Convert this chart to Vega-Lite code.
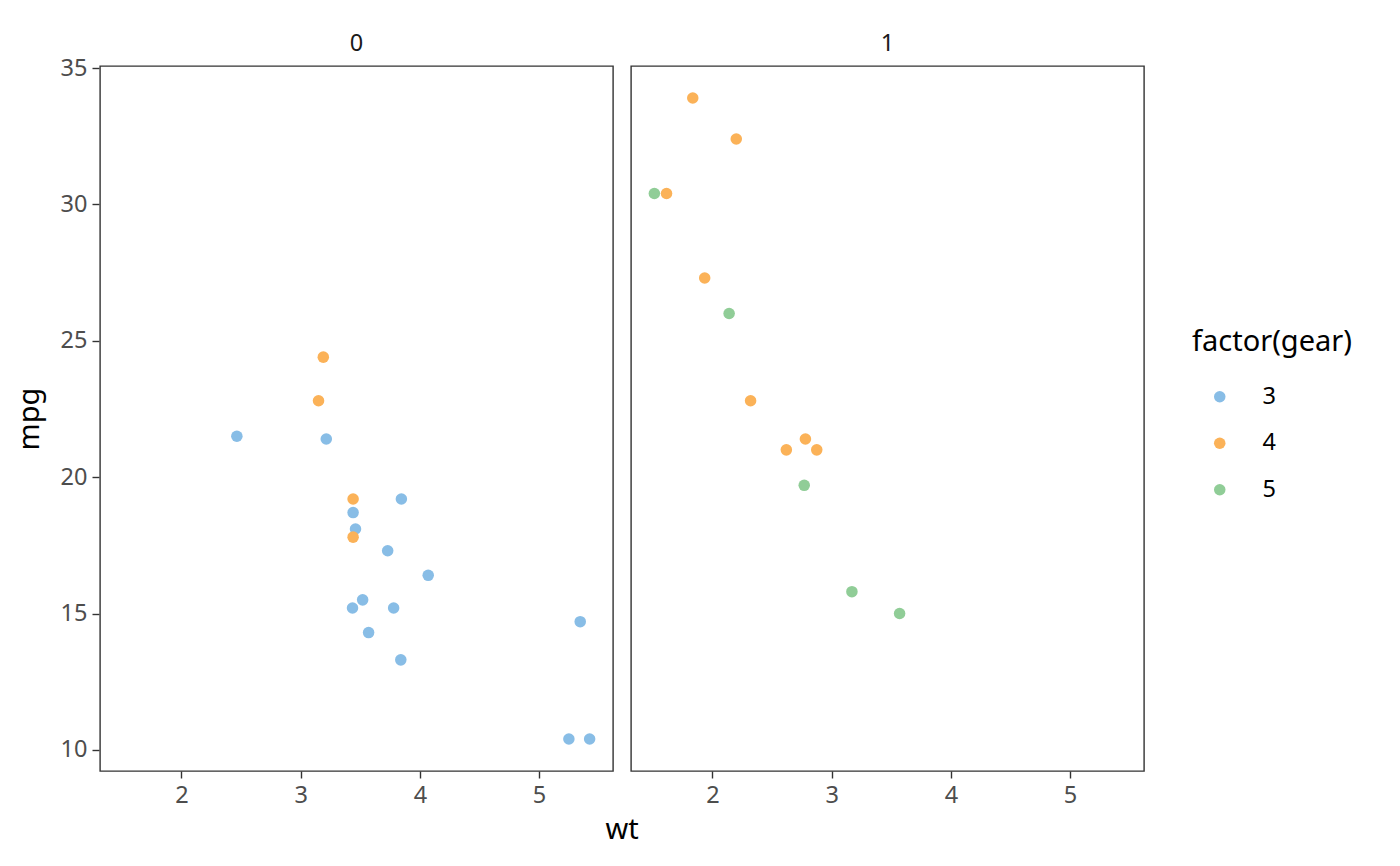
{
  "$schema": "https://vega.github.io/schema/vega-lite/v6.json",
  "padding": {"left": 15, "top": 31, "right": 5, "bottom": 5},
  "background": "white",
  "config": {
    "font": "Noto Sans",
    "view": {"stroke": "#333333", "strokeWidth": 1.4},
    "axis": {"grid": false, "domain": false, "tickColor": "#333333", "tickSize": 7, "tickWidth": 1.4, "labelColor": "#4d4d4d", "labelFontSize": 23.5, "labelPadding": 5, "titleFontSize": 29, "titleFontWeight": "normal", "titleColor": "black"},
    "header": {"labelFontSize": 23.5, "labelColor": "#1a1a1a"},
    "legend": {"titleFontSize": 29, "titleFontWeight": "normal", "titleColor": "black", "labelFontSize": 23.5, "labelColor": "black"}
  },
  "data": {"values": [
    {"car": "Mazda RX4", "mpg": 21.0, "wt": 2.620, "am": 1, "gear": "4"},
    {"car": "Mazda RX4 Wag", "mpg": 21.0, "wt": 2.875, "am": 1, "gear": "4"},
    {"car": "Datsun 710", "mpg": 22.8, "wt": 2.320, "am": 1, "gear": "4"},
    {"car": "Hornet 4 Drive", "mpg": 21.4, "wt": 3.215, "am": 0, "gear": "3"},
    {"car": "Hornet Sportabout", "mpg": 18.7, "wt": 3.440, "am": 0, "gear": "3"},
    {"car": "Valiant", "mpg": 18.1, "wt": 3.460, "am": 0, "gear": "3"},
    {"car": "Duster 360", "mpg": 14.3, "wt": 3.570, "am": 0, "gear": "3"},
    {"car": "Merc 240D", "mpg": 24.4, "wt": 3.190, "am": 0, "gear": "4"},
    {"car": "Merc 230", "mpg": 22.8, "wt": 3.150, "am": 0, "gear": "4"},
    {"car": "Merc 280", "mpg": 19.2, "wt": 3.440, "am": 0, "gear": "4"},
    {"car": "Merc 280C", "mpg": 17.8, "wt": 3.440, "am": 0, "gear": "4"},
    {"car": "Merc 450SE", "mpg": 16.4, "wt": 4.070, "am": 0, "gear": "3"},
    {"car": "Merc 450SL", "mpg": 17.3, "wt": 3.730, "am": 0, "gear": "3"},
    {"car": "Merc 450SLC", "mpg": 15.2, "wt": 3.780, "am": 0, "gear": "3"},
    {"car": "Cadillac Fleetwood", "mpg": 10.4, "wt": 5.250, "am": 0, "gear": "3"},
    {"car": "Lincoln Continental", "mpg": 10.4, "wt": 5.424, "am": 0, "gear": "3"},
    {"car": "Chrysler Imperial", "mpg": 14.7, "wt": 5.345, "am": 0, "gear": "3"},
    {"car": "Fiat 128", "mpg": 32.4, "wt": 2.200, "am": 1, "gear": "4"},
    {"car": "Honda Civic", "mpg": 30.4, "wt": 1.615, "am": 1, "gear": "4"},
    {"car": "Toyota Corolla", "mpg": 33.9, "wt": 1.835, "am": 1, "gear": "4"},
    {"car": "Toyota Corona", "mpg": 21.5, "wt": 2.465, "am": 0, "gear": "3"},
    {"car": "Dodge Challenger", "mpg": 15.5, "wt": 3.520, "am": 0, "gear": "3"},
    {"car": "AMC Javelin", "mpg": 15.2, "wt": 3.435, "am": 0, "gear": "3"},
    {"car": "Camaro Z28", "mpg": 13.3, "wt": 3.840, "am": 0, "gear": "3"},
    {"car": "Pontiac Firebird", "mpg": 19.2, "wt": 3.845, "am": 0, "gear": "3"},
    {"car": "Fiat X1-9", "mpg": 27.3, "wt": 1.935, "am": 1, "gear": "4"},
    {"car": "Porsche 914-2", "mpg": 26.0, "wt": 2.140, "am": 1, "gear": "5"},
    {"car": "Lotus Europa", "mpg": 30.4, "wt": 1.513, "am": 1, "gear": "5"},
    {"car": "Ford Pantera L", "mpg": 15.8, "wt": 3.170, "am": 1, "gear": "5"},
    {"car": "Ferrari Dino", "mpg": 19.7, "wt": 2.770, "am": 1, "gear": "5"},
    {"car": "Maserati Bora", "mpg": 15.0, "wt": 3.570, "am": 1, "gear": "5"},
    {"car": "Volvo 142E", "mpg": 21.4, "wt": 2.780, "am": 1, "gear": "4"}
  ]},
  "facet": {
    "column": {
      "field": "am", "type": "ordinal", "title": "wt",
      "header": {"labelOrient": "top", "titleOrient": "bottom", "titleFontSize": 29, "titleFontWeight": "normal", "titleColor": "black", "titlePadding": -2, "labelPadding": 10}
    }
  },
  "spacing": 16,
  "resolve": {"axis": {"x": "independent"}},
  "spec": {
    "width": 513,
    "height": 705,
    "mark": {"type": "circle", "size": 133, "opacity": 1},
    "encoding": {
      "x": {"field": "wt", "type": "quantitative", "title": null, "scale": {"domain": [1.317, 5.620], "nice": false, "zero": false}, "axis": {"values": [2, 3, 4, 5]}},
      "y": {"field": "mpg", "type": "quantitative", "title": "mpg", "scale": {"domain": [9.225, 35.075], "nice": false, "zero": false}, "axis": {"values": [10, 15, 20, 25, 30, 35], "titlePadding": 16}},
      "color": {"field": "gear", "type": "nominal", "title": "factor(gear)", "scale": {"domain": ["3", "4", "5"], "range": ["#88BDE6", "#FBB258", "#90CD97"]}, "legend": {"orient": "none", "legendX": 1092, "legendY": 262, "symbolSize": 133, "symbolOffset": 16, "rowPadding": 21.5, "labelOffset": 31, "titlePadding": 28, "padding": 0}}
    }
  }
}
